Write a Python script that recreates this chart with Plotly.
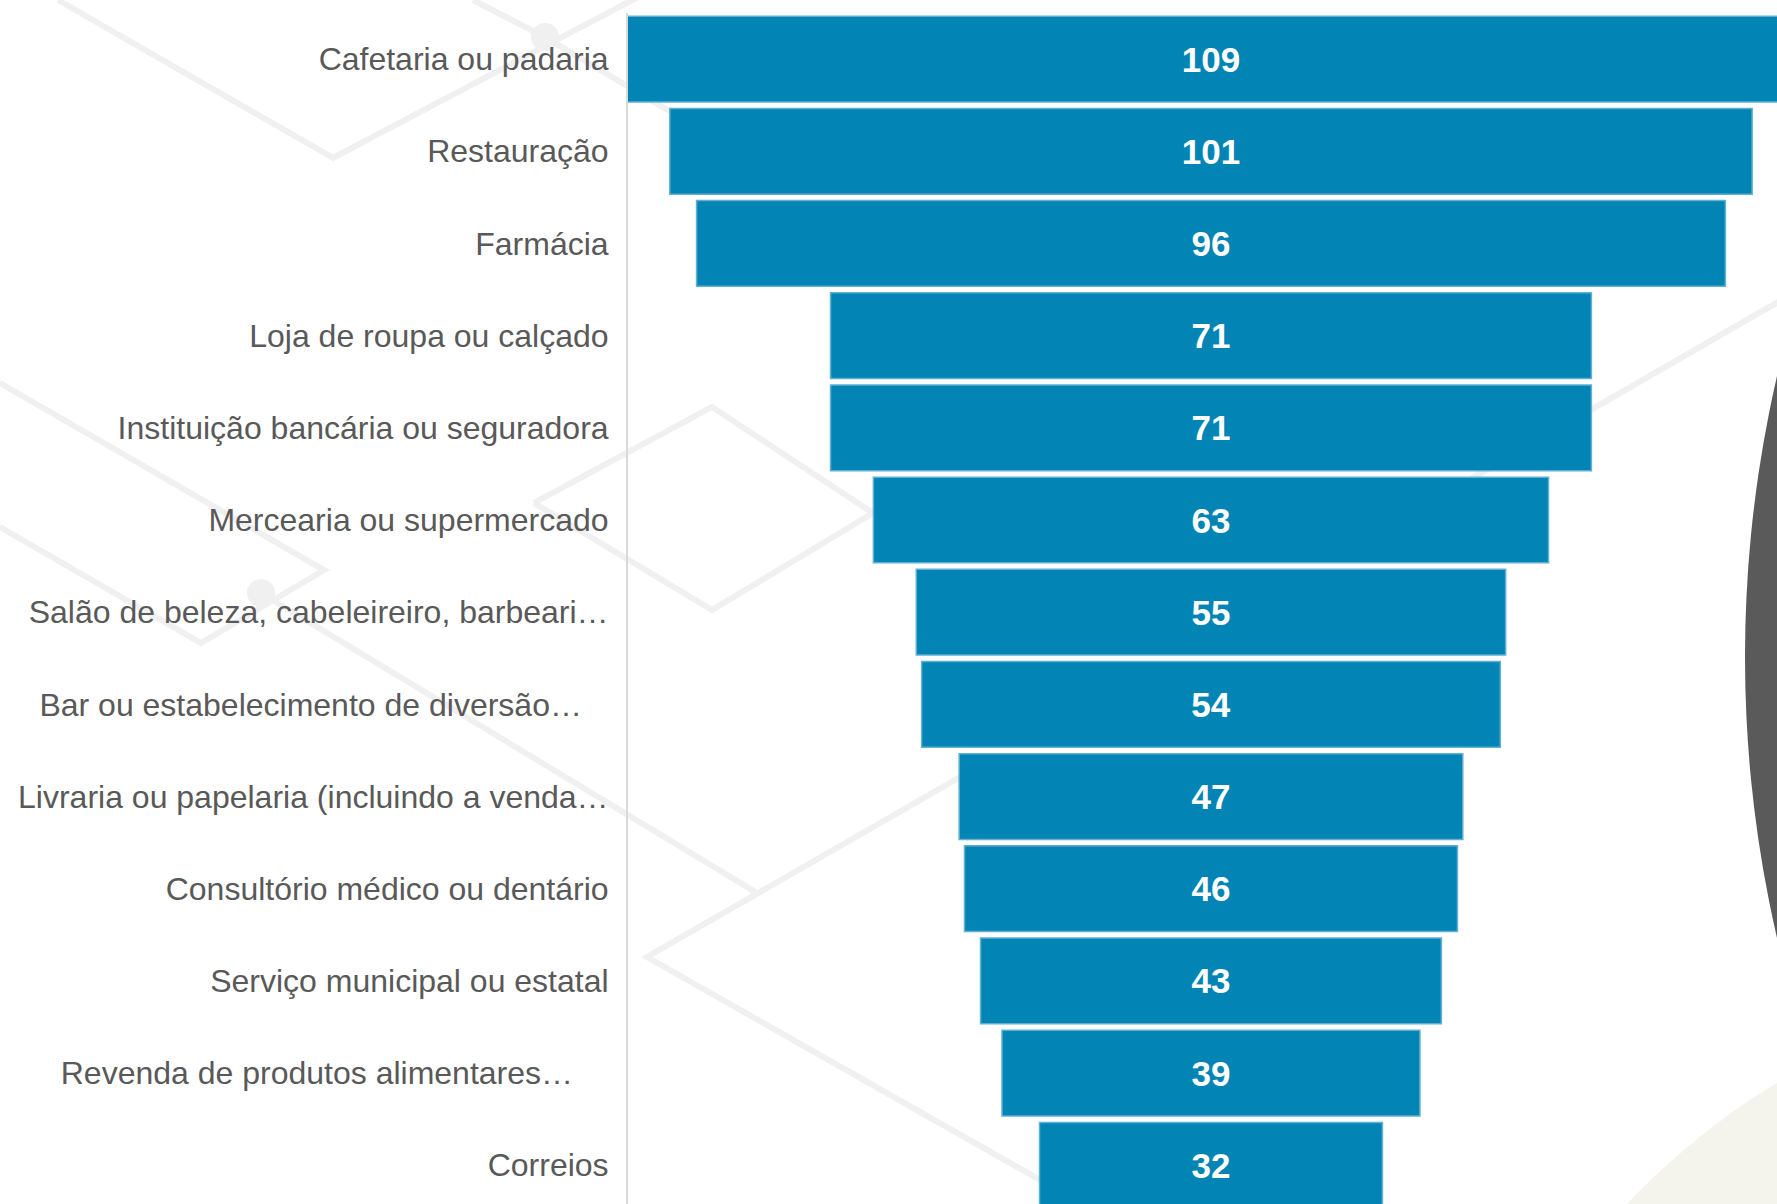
import plotly.graph_objects as go

categories = [
    "Cafetaria ou padaria",
    "Restauração",
    "Farmácia",
    "Loja de roupa ou calçado",
    "Instituição bancária ou seguradora",
    "Mercearia ou supermercado",
    "Salão de beleza, cabeleireiro, barbeari…",
    "Bar ou estabelecimento de diversão…",
    "Livraria ou papelaria (incluindo a venda…",
    "Consultório médico ou dentário",
    "Serviço municipal ou estatal",
    "Revenda de produtos alimentares…",
    "Correios",
]
values = [109, 101, 96, 71, 71, 63, 55, 54, 47, 46, 43, 39, 32]
# labels as shown (a few end short of the axis in the original)
tick_labels = [
    "Cafetaria ou padaria",
    "Restauração",
    "Farmácia",
    "Loja de roupa ou calçado",
    "Instituição bancária ou seguradora",
    "Mercearia ou supermercado",
    "Salão de beleza, cabeleireiro, barbeari…",
    "Bar ou estabelecimento de diversão…\u00a0\u00a0\u00a0",
    "Livraria ou papelaria (incluindo a venda…",
    "Consultório médico ou dentário",
    "Serviço municipal ou estatal",
    "Revenda de produtos alimentares…\u00a0\u00a0\u00a0\u00a0",
    "Correios",
]

W, H = 1777, 1204
ML, MT = 628, 13


def to_paper(x, y):
    return (x - ML) / (W - ML), (H - y) / (H - MT)


def poly(points):
    parts = []
    for i, (x, y) in enumerate(points):
        px, py = to_paper(x, y)
        parts.append(("M" if i == 0 else "L") + f"{px:.4f},{py:.4f}")
    return " ".join(parts)


def circle(cx, cy, r, color):
    x0, y0 = to_paper(cx - r, cy + r)
    x1, y1 = to_paper(cx + r, cy - r)
    return dict(type="circle", xref="paper", yref="paper", x0=x0, y0=y0, x1=x1, y1=y1,
                fillcolor=color, line=dict(width=0), layer="below")


# background decoration
deco_lines = [
    [(58, 0), (333, 158), (640, -4)],
    [(473, 0), (545, 37), (760, 165)],
    [(0, 383), (324, 570), (201, 643), (0, 527)],
    [(261, 593), (757, 893)],
    [(534, 503), (712, 407), (873, 513), (712, 610), (534, 503)],
    [(960, 777), (647, 957), (1040, 1180)],
    [(1790, 295), (1400, 520)],
]
shapes = [circle(2995, 657, 1250, "#5a5a5a"), circle(2160, 1710, 735, "#f4f4ec")]
for pts in deco_lines:
    shapes.append(dict(type="path", xref="paper", yref="paper", path=poly(pts),
                       line=dict(color="#f0f0f0", width=6), layer="below"))
shapes.append(circle(545, 37, 14, "#f0f0f0"))
shapes.append(circle(261, 593, 14, "#f0f0f0"))

fig = go.Figure(go.Funnel(
    y=categories,
    x=values,
    textinfo="value",
    textposition="inside",
    insidetextanchor="middle",
    textfont=dict(family="Liberation Sans, Arial", size=35, color="white", weight="bold"),
    marker=dict(color="#0285b5", line=dict(color="#5fb0d2", width=1.5)),
    connector=dict(visible=False),
    cliponaxis=True,
))

fig.update_layout(
    width=W,
    height=H,
    autosize=False,
    margin=dict(l=ML, r=0, t=MT, b=0, pad=0),
    paper_bgcolor="white",
    plot_bgcolor="rgba(0,0,0,0)",
    font=dict(family="Liberation Sans, Arial", color="#595959"),
    showlegend=False,
    funnelgap=0.07,
    shapes=shapes,
    xaxis={
        'range': [-54.4, 52.82],
        'visible': False,
        'fixedrange': True,
    },
    yaxis={
        'range': [12.42, -0.5],
        'autorange': False,
        'tickmode': 'array',
        'tickvals': categories,
        'ticktext': tick_labels,
        'tickfont': {'size': 32, 'color': '#595959'},
        'showline': True,
        'linecolor': '#d9d9d9',
        'linewidth': 2,
        'ticks': '',
        'ticklabelstandoff': 11,
        'showgrid': False,
    },
)

# drop the default page margin so the figure fills the window exactly
fig.write_html(
    "out.html",
    config={'displayModeBar': False},
    post_script="document.body.style.margin='0';document.body.style.overflow='hidden';",
)
